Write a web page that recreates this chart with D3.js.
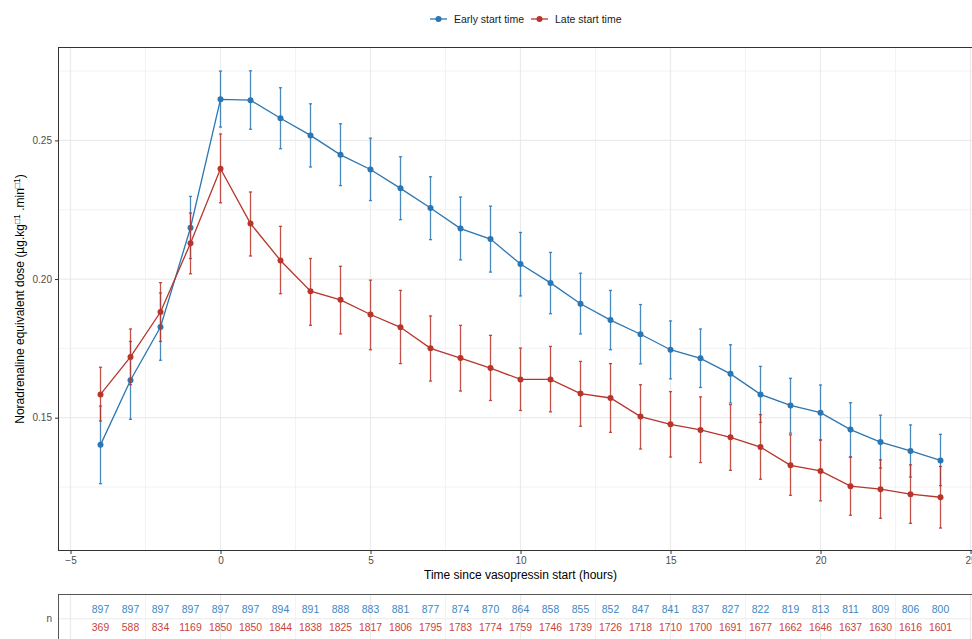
<!DOCTYPE html>
<html lang="en">
<head>
<meta charset="UTF-8">
<title>Noradrenaline equivalent dose over time</title>
<script src="https://cdn.jsdelivr.net/npm/d3@7"></script>
<style>
  body { margin: 0; background: #fff; }
  svg { font-family: "Liberation Sans", Arial, sans-serif; display: block; }
  .tick text { fill: #4d4d4d; font-size: 10px; }
  .tick line { stroke: #333; }
  .domain { display: none; }
</style>
</head>
<body>
<svg width="972" height="639"></svg>
<script>
// hours since vasopressin start
const hours = [-4, -3, -2, -1, 0, 1, 2, 3, 4, 5, 6, 7, 8, 9, 10, 11, 12, 13, 14, 15, 16, 17, 18, 19, 20, 21, 22, 23, 24];

// early start time group
const earlyMean = [0.1402, 0.1635, 0.1827, 0.2185, 0.2648, 0.2645, 0.2580, 0.2518, 0.2448, 0.2395, 0.2327, 0.2256, 0.2182, 0.2144, 0.2054, 0.1986, 0.1911, 0.1852, 0.1801, 0.1745, 0.1714, 0.1658, 0.1584, 0.1544, 0.1518, 0.1457, 0.1412, 0.1380, 0.1346];
const earlyLow  = [0.1262, 0.1494, 0.1707, 0.2074, 0.2548, 0.2540, 0.2470, 0.2404, 0.2337, 0.2283, 0.2214, 0.2142, 0.2069, 0.2025, 0.1939, 0.1875, 0.1802, 0.1745, 0.1694, 0.1640, 0.1609, 0.1553, 0.1483, 0.1444, 0.1420, 0.1358, 0.1318, 0.1286, 0.1255];
const earlyHigh = [0.1542, 0.1775, 0.1950, 0.2298, 0.2750, 0.2751, 0.2690, 0.2632, 0.2560, 0.2508, 0.2441, 0.2369, 0.2296, 0.2263, 0.2168, 0.2096, 0.2021, 0.1959, 0.1908, 0.1849, 0.1820, 0.1763, 0.1685, 0.1642, 0.1618, 0.1554, 0.1509, 0.1474, 0.1440];
const earlyN    = [897, 897, 897, 897, 897, 897, 894, 891, 888, 883, 881, 877, 874, 870, 864, 858, 855, 852, 847, 841, 837, 827, 822, 819, 813, 811, 809, 806, 800];

// late start time group
const lateMean = [0.1584, 0.1719, 0.1881, 0.2129, 0.2398, 0.2200, 0.2067, 0.1956, 0.1925, 0.1872, 0.1826, 0.1750, 0.1715, 0.1679, 0.1638, 0.1638, 0.1587, 0.1571, 0.1504, 0.1476, 0.1456, 0.1429, 0.1394, 0.1328, 0.1308, 0.1253, 0.1242, 0.1224, 0.1213];
const lateLow  = [0.1488, 0.1619, 0.1775, 0.2019, 0.2275, 0.2083, 0.1947, 0.1833, 0.1802, 0.1745, 0.1695, 0.1632, 0.1596, 0.1562, 0.1526, 0.1521, 0.1469, 0.1447, 0.1387, 0.1358, 0.1338, 0.1310, 0.1278, 0.1220, 0.1200, 0.1148, 0.1137, 0.1119, 0.1102];
const lateHigh = [0.1682, 0.1820, 0.1987, 0.2238, 0.2523, 0.2314, 0.2190, 0.2074, 0.2046, 0.1996, 0.1959, 0.1867, 0.1833, 0.1797, 0.1751, 0.1757, 0.1703, 0.1695, 0.1619, 0.1594, 0.1575, 0.1547, 0.1511, 0.1438, 0.1419, 0.1358, 0.1348, 0.1330, 0.1324];
const lateN    = [369, 588, 834, 1169, 1850, 1850, 1844, 1838, 1825, 1817, 1806, 1795, 1783, 1774, 1759, 1746, 1739, 1726, 1718, 1710, 1700, 1691, 1677, 1662, 1646, 1637, 1630, 1616, 1601];

const groupNames = ["Early start time", "Late start time"];
const groupColors = ["#2b76b3", "#b8352b"];
const tableColors = ["#3c86c4", "#c9433a"];

const xTicks = [-5, 0, 5, 10, 15, 20, 25];
const yTicks = [0.15, 0.20, 0.25];

const series = [
  {name: groupNames[0], color: groupColors[0], tcolor: tableColors[0],
   values: hours.map((h, i) => ({h, m: earlyMean[i], lo: earlyLow[i], hi: earlyHigh[i], n: earlyN[i]}))},
  {name: groupNames[1], color: groupColors[1], tcolor: tableColors[1],
   values: hours.map((h, i) => ({h, m: lateMean[i], lo: lateLow[i], hi: lateHigh[i], n: lateN[i]}))}
];

const svg = d3.select("svg");
const panel = {left: 58.5, right: 982.5, top: 47.5, bottom: 550.5};

const x = d3.scaleLinear().domain([-5.4, 25.4]).range([panel.left, panel.right]);
const y = d3.scaleLinear().domain([0.1021, 0.2835]).range([panel.bottom, panel.top]);

const mids = t => t.slice(1).map((v, i) => (v + t[i]) / 2);
const xMinor = mids(xTicks);
const yMinor = [0.125].concat(mids(yTicks), [0.275]);

// main panel grid
const grid = svg.append("g");
grid.selectAll(".ymin").data(yMinor).join("line")
  .attr("x1", panel.left).attr("x2", panel.right)
  .attr("y1", d => y(d)).attr("y2", d => y(d))
  .attr("stroke", "#ebebeb").attr("stroke-width", 0.6);
grid.selectAll(".xmin").data(xMinor).join("line")
  .attr("y1", panel.top).attr("y2", panel.bottom)
  .attr("x1", d => x(d)).attr("x2", d => x(d))
  .attr("stroke", "#ebebeb").attr("stroke-width", 0.6);
grid.selectAll(".ymaj").data(yTicks).join("line")
  .attr("x1", panel.left).attr("x2", panel.right)
  .attr("y1", d => y(d)).attr("y2", d => y(d))
  .attr("stroke", "#ebebeb").attr("stroke-width", 1.2);
grid.selectAll(".xmaj").data(xTicks).join("line")
  .attr("y1", panel.top).attr("y2", panel.bottom)
  .attr("x1", d => x(d)).attr("x2", d => x(d))
  .attr("stroke", "#ebebeb").attr("stroke-width", 1.2);

// series
const line = d3.line().x(d => x(d.h)).y(d => y(d.m));
series.forEach(s => {
  const g = svg.append("g");
  g.selectAll(".err").data(s.values).join("line")
    .attr("x1", d => x(d.h)).attr("x2", d => x(d.h))
    .attr("y1", d => y(d.lo)).attr("y2", d => y(d.hi))
    .attr("stroke", s.color).attr("stroke-width", 1.3).attr("opacity", 0.85);
  ["lo", "hi"].forEach(k => {
    g.selectAll(".cap-" + k).data(s.values).join("line")
      .attr("x1", d => x(d.h) - 1.6).attr("x2", d => x(d.h) + 1.6)
      .attr("y1", d => y(d[k])).attr("y2", d => y(d[k]))
      .attr("stroke", s.color).attr("stroke-width", 1.3).attr("opacity", 0.85);
  });
  g.append("path").datum(s.values)
    .attr("d", line).attr("fill", "none")
    .attr("stroke", s.color).attr("stroke-width", 1.3);
  g.selectAll("circle").data(s.values).join("circle")
    .attr("cx", d => x(d.h)).attr("cy", d => y(d.m)).attr("r", 3)
    .attr("fill", s.color);
});

// panel border
svg.append("rect")
  .attr("x", panel.left).attr("y", panel.top)
  .attr("width", panel.right - panel.left).attr("height", panel.bottom - panel.top)
  .attr("fill", "none").attr("stroke", "#333").attr("stroke-width", 1);

// axes
svg.append("g")
  .attr("transform", `translate(0,${panel.bottom})`)
  .call(d3.axisBottom(x).tickValues(xTicks).tickSize(3.5).tickPadding(3).tickFormat(d3.format("d")));
svg.append("g")
  .attr("transform", `translate(${panel.left},0)`)
  .call(d3.axisLeft(y).tickValues(yTicks).tickSize(3.5).tickPadding(3).tickFormat(d3.format(".2f")));

svg.append("text")
  .attr("x", (panel.left + panel.right) / 2).attr("y", 579)
  .attr("text-anchor", "middle").attr("font-size", 12).attr("fill", "#000")
  .text("Time since vasopressin start (hours)");

const yl = svg.append("text")
  .attr("transform", `translate(24,${(panel.top + panel.bottom) / 2}) rotate(-90)`)
  .attr("text-anchor", "middle").attr("font-size", 12).attr("fill", "#000");
yl.append("tspan").text("Noradrenaline equivalent dose (µg.kg");
yl.append("tspan").attr("dy", -4).attr("font-size", 8.5).text("□1");
yl.append("tspan").attr("dy", 4).text(" .min");
yl.append("tspan").attr("dy", -4).attr("font-size", 8.5).text("□1");
yl.append("tspan").attr("dy", 4).text(")");

// legend
const legendX = [430, 531];
const lg = svg.append("g").attr("transform", "translate(0,19)");
series.forEach((s, i) => {
  const k = lg.append("g").attr("transform", `translate(${legendX[i]},0)`);
  k.append("line").attr("x1", 0).attr("x2", 17).attr("stroke", s.color).attr("stroke-width", 1.3);
  k.append("circle").attr("cx", 8.5).attr("r", 3).attr("fill", s.color);
  k.append("text").attr("x", 24).attr("dy", "0.35em").attr("font-size", 10.5).attr("fill", "#1a1a1a").text(s.name);
});

// risk table
const tPanel = {top: 594.5, bottom: 643};
const ty = d3.scaleBand().domain(["n"]).range([tPanel.top, tPanel.bottom]);
const tg = svg.append("g");
tg.selectAll(".tmin").data(xMinor).join("line")
  .attr("y1", tPanel.top).attr("y2", tPanel.bottom)
  .attr("x1", d => x(d)).attr("x2", d => x(d))
  .attr("stroke", "#ebebeb").attr("stroke-width", 0.6);
tg.selectAll(".tmaj").data(xTicks).join("line")
  .attr("y1", tPanel.top).attr("y2", tPanel.bottom)
  .attr("x1", d => x(d)).attr("x2", d => x(d))
  .attr("stroke", "#ebebeb").attr("stroke-width", 1.2);
tg.selectAll(".trow").data(ty.domain()).join("line")
  .attr("x1", panel.left).attr("x2", panel.right)
  .attr("y1", d => ty(d) + ty.bandwidth() / 2).attr("y2", d => ty(d) + ty.bandwidth() / 2)
  .attr("stroke", "#ebebeb").attr("stroke-width", 1.2);
const rowCenter = ty("n") + ty.bandwidth() / 2;
series.forEach((s, i) => {
  tg.selectAll(".num" + i).data(s.values).join("text")
    .attr("x", d => x(d.h)).attr("y", rowCenter + (i === 0 ? -9 : 9))
    .attr("dy", "0.35em").attr("text-anchor", "middle")
    .attr("font-size", 10.4).attr("fill", s.tcolor)
    .text(d => d.n);
});
tg.append("rect")
  .attr("x", panel.left).attr("y", tPanel.top)
  .attr("width", panel.right - panel.left).attr("height", tPanel.bottom - tPanel.top)
  .attr("fill", "none").attr("stroke", "#555").attr("stroke-width", 1);
tg.append("text")
  .attr("x", 52).attr("y", rowCenter).attr("dy", "0.35em")
  .attr("text-anchor", "end").attr("font-size", 10).attr("fill", "#4d4d4d")
  .text("n");
</script>
</body>
</html>
